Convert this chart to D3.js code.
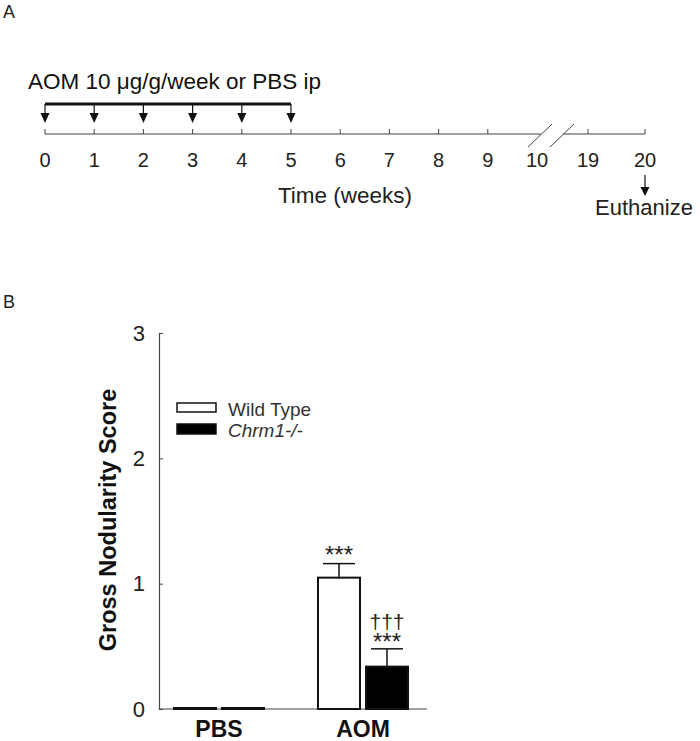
<!DOCTYPE html>
<html><head><meta charset="utf-8">
<script src="https://cdn.jsdelivr.net/npm/d3@7"></script>
<style>body{margin:0;background:#fff}svg{display:block}text{font-family:"Liberation Sans",Arial,sans-serif}</style>
</head><body><div id="c"></div>
<script>
// ---- Data ----
const weekLabels = [0,1,2,3,4,5,6,7,8,9,10,19,20];
const injectionWeeks = [0,1,2,3,4,5];
const categories = ["PBS","AOM"];
const wildType = [0, 1.04];
const chrm1 = [0, 0.33];
const wildTypeErr = [0, 0.12];
const chrm1Err = [0, 0.15];
const yTicks = [0,1,2,3];
const seriesNames = ["Wild Type","Chrm1-/-"];

const W=700,H=741;
const svg=d3.select("#c").append("svg").attr("width",W).attr("height",H);

// ---- Panel A ----
svg.append("text").attr("x",3).attr("y",18).attr("font-size",18).attr("fill","#222").text("A");
const xt=d3.scaleLinear().domain([0,10,19,20]).range([45,537,588,645]);
const lineY=134;
const gA=svg.append("g").attr("stroke","#444").attr("fill","none");
const brk1=541, brk2=563;
gA.append("line").attr("x1",xt(0)).attr("x2",brk1).attr("y1",lineY).attr("y2",lineY).attr("stroke-width",1.2);
gA.append("line").attr("x1",brk2).attr("x2",xt(20)).attr("y1",lineY).attr("y2",lineY).attr("stroke-width",1.2);
[brk1,brk2].forEach(b=>gA.append("line").attr("x1",b-13).attr("y1",lineY+13).attr("x2",b+11).attr("y2",lineY-10).attr("stroke-width",1));
gA.selectAll("line.tk").data(weekLabels.filter(d=>d!==10)).enter().append("line").attr("class","tk")
  .attr("x1",d=>xt(d)).attr("x2",d=>xt(d)).attr("y1",lineY).attr("y2",lineY-5).attr("stroke-width",1);
svg.selectAll("text.wl").data(weekLabels).enter().append("text").attr("class","wl")
  .attr("x",d=>xt(d)).attr("y",167).attr("text-anchor","middle").attr("font-size",20).attr("fill","#222").text(d=>d);
svg.append("text").attr("x",345).attr("y",203).attr("text-anchor","middle").attr("font-size",22.5).attr("fill","#222").text("Time (weeks)");
svg.append("line").attr("x1",xt(0)).attr("x2",xt(5)).attr("y1",104).attr("y2",104).attr("stroke","#111").attr("stroke-width",3);
svg.append("text").attr("x",28).attr("y",89).attr("font-size",22.5).attr("fill","#111").text("AOM 10 μg/g/week or PBS ip");
const arr=svg.append("g");
injectionWeeks.forEach(w=>{
  const x=xt(w);
  arr.append("line").attr("x1",x).attr("x2",x).attr("y1",104).attr("y2",115).attr("stroke","#111").attr("stroke-width",1.2);
  arr.append("path").attr("d",`M${x-4.5},113L${x+4.5},113L${x},123Z`).attr("fill","#111");
});
const ex=xt(20);
svg.append("line").attr("x1",ex).attr("x2",ex).attr("y1",175).attr("y2",189).attr("stroke","#111").attr("stroke-width",1.2);
svg.append("path").attr("d",`M${ex-4.5},187L${ex+4.5},187L${ex},196Z`).attr("fill","#111");
svg.append("text").attr("x",644).attr("y",215).attr("text-anchor","middle").attr("font-size",22).attr("fill","#222").text("Euthanize");

// ---- Panel B ----
svg.append("text").attr("x",3).attr("y",308).attr("font-size",18).attr("fill","#222").text("B");
const y=d3.scaleLinear().domain([0,3]).range([709,333]);
const axisX=159;
const ga=svg.append("g").attr("transform",`translate(${axisX},0)`)
  .call(d3.axisLeft(y).tickValues(yTicks).tickSize(-4).tickPadding(14).tickFormat(d3.format("d")));
ga.select(".domain").attr("stroke","#444").attr("stroke-width",1.2);
ga.selectAll(".tick line").attr("stroke","#444");
ga.selectAll(".tick text").attr("font-size",22).attr("fill","#222").attr("font-family","Liberation Sans, Arial, sans-serif");
svg.append("line").attr("x1",axisX).attr("x2",427).attr("y1",y(0)).attr("y2",y(0)).attr("stroke","#444").attr("stroke-width",1.2);
svg.append("text").attr("transform",`translate(116,520) rotate(-90)`).attr("text-anchor","middle")
  .attr("font-size",23.5).attr("font-weight","bold").attr("fill","#111").text("Gross Nodularity Score");
const barW=42, gap=6;
const x0=d3.scalePoint().domain(categories).range([219,363]);
const barsData=categories.map((c,i)=>({c,wt:wildType[i],ko:chrm1[i],ewt:wildTypeErr[i],eko:chrm1Err[i]}));
const gb=svg.append("g");
barsData.forEach(d=>{
  const cx=x0(d.c)-0;
  const xw=cx-gap/2-barW, xk=cx+gap/2;
  gb.append("rect").attr("x",xw).attr("y",y(d.wt)-1).attr("width",barW).attr("height",y(0)-y(d.wt)+1)
    .attr("fill","#fff").attr("stroke","#111").attr("stroke-width",2);
  gb.append("rect").attr("x",xk).attr("y",y(d.ko)-1).attr("width",barW).attr("height",y(0)-y(d.ko)+1)
    .attr("fill","#000").attr("stroke","#111").attr("stroke-width",2);
  if(d.ewt>0){
    const mx=xw+barW/2, ty=y(d.wt+d.ewt);
    gb.append("line").attr("x1",mx).attr("x2",mx).attr("y1",y(d.wt)).attr("y2",ty).attr("stroke","#111").attr("stroke-width",1.5);
    gb.append("line").attr("x1",mx-16).attr("x2",mx+16).attr("y1",ty).attr("y2",ty).attr("stroke","#111").attr("stroke-width",1.5);
    gb.append("text").attr("x",mx).attr("y",ty-1).attr("text-anchor","middle").attr("font-size",24).attr("fill","#222").text("***");
  }
  if(d.eko>0){
    const mx=xk+barW/2, ty=y(d.ko+d.eko);
    gb.append("line").attr("x1",mx).attr("x2",mx).attr("y1",y(d.ko)).attr("y2",ty).attr("stroke","#111").attr("stroke-width",1.5);
    gb.append("line").attr("x1",mx-16).attr("x2",mx+16).attr("y1",ty).attr("y2",ty).attr("stroke","#111").attr("stroke-width",1.5);
    gb.append("text").attr("x",mx).attr("y",ty+1).attr("text-anchor","middle").attr("font-size",24).attr("fill","#222").text("***");
    gb.append("text").attr("x",mx).attr("y",ty-20).attr("text-anchor","middle").attr("font-size",21).attr("fill","#222").text("†††");
  }
});
svg.selectAll("text.cat").data(categories).enter().append("text").attr("class","cat")
  .attr("x",d=>x0(d)).attr("y",737).attr("text-anchor","middle").attr("font-size",23).attr("font-weight","bold").attr("fill","#111").text(d=>d);
const lg=svg.append("g");
seriesNames.forEach((n,i)=>{
  const yy=403+i*21;
  lg.append("rect").attr("x",177).attr("y",yy).attr("width",39).attr("height",i===0?9:10)
    .attr("fill",i===0?"#fff":"#000").attr("stroke","#111").attr("stroke-width",1.5);
  lg.append("text").attr("x",228).attr("y",yy+13).attr("font-size",19).attr("fill","#333")
    .attr("font-style",i===1?"italic":"normal").text(n);
});
</script></body></html>
